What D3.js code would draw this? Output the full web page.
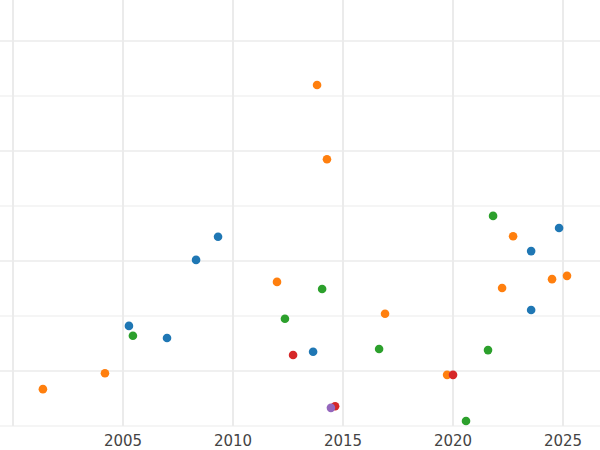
<!DOCTYPE html>
<html><head><meta charset="utf-8">
<script src="https://cdn.jsdelivr.net/npm/d3@7"></script>
<style>body{margin:0;background:#fff}</style></head>
<body><div class="graph"></div>
<script>
const groups = ["orange", "blue", "green", "red", "purple"];
const colors = ["#ff7f0e", "#1f77b4", "#2ca02c", "#d62728", "#9467bd"];
const years = [
  [2001.36, 2004.18, 2013.82, 2014.27, 2012.0, 2016.91, 2019.73, 2022.73, 2022.23, 2024.5, 2025.18],
  [2005.27, 2007.0, 2008.32, 2009.32, 2013.64, 2023.55, 2023.55, 2024.82],
  [2005.45, 2012.36, 2014.05, 2016.64, 2021.59, 2021.82, 2020.59],
  [2012.73, 2014.64, 2020.0],
  [2014.45]
];
const values = [
  [0.67, 0.96, 6.2, 4.85, 2.62, 2.04, 0.93, 3.45, 2.51, 2.67, 2.73],
  [1.82, 1.6, 3.02, 3.44, 1.35, 3.18, 2.11, 3.6],
  [1.64, 1.95, 2.49, 1.4, 1.38, 3.82, 0.09],
  [1.29, 0.36, 0.93],
  [0.33]
];
const xTicks = [2005, 2010, 2015, 2020, 2025];
const yGrid = [0, 1, 2, 3, 4, 5, 6, 7];

const width = 600, height = 450;
const x = d3.scaleLinear().domain([2000, 2026.68]).range([13, 600]);
const y = d3.scaleLinear().domain([0, 7]).range([426, 41]);

const svg = d3.select(".graph").append("svg")
  .attr("width", width).attr("height", height);

svg.selectAll(".hg").data(yGrid).enter().append("line")
  .attr("x1", 0).attr("x2", width)
  .attr("y1", d => y(d)).attr("y2", d => y(d))
  .attr("stroke", "#ebebeb").attr("stroke-width", d => d % 2 ? 1.6 : 1);

svg.selectAll(".vg").data([2000].concat(xTicks)).enter().append("line")
  .attr("x1", d => x(d)).attr("x2", d => x(d))
  .attr("y1", 0).attr("y2", 426)
  .attr("stroke", "#ebebeb").attr("stroke-width", 2);

svg.selectAll(".xt").data(xTicks).enter().append("text")
  .attr("x", d => x(d)).attr("y", 446)
  .attr("text-anchor", "middle")
  .attr("font-family", "DejaVu Sans").attr("font-size", 15)
  .attr("fill", "#444").text(d => d);

groups.forEach((g, i) => {
  svg.selectAll(".p" + i).data(years[i]).enter().append("circle")
    .attr("cx", d => x(d))
    .attr("cy", (d, j) => y(values[i][j]))
    .attr("r", 4.3)
    .attr("fill", colors[i]);
});
</script></body></html>
